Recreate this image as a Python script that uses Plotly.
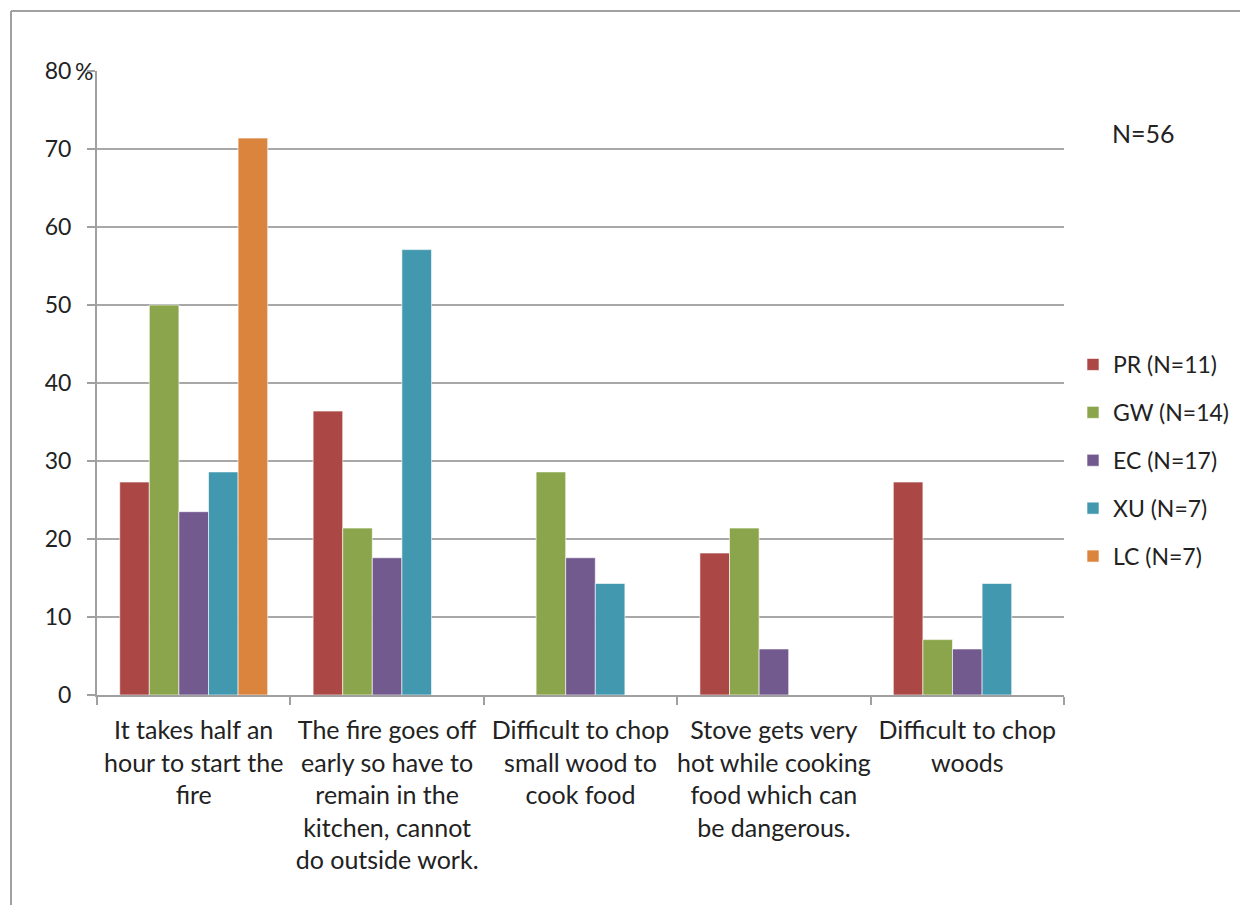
import plotly.graph_objects as go

categories = [
    "It takes half an<br>hour to start the<br>fire",
    "The fire goes off<br>early so have to<br>remain in the<br>kitchen, cannot<br>do outside work.",
    "Difficult to chop<br>small wood to<br>cook food",
    "Stove gets very<br>hot while cooking<br>food which can<br>be dangerous.",
    "Difficult to chop<br>woods",
]
series_names = ["PR (N=11)", "GW (N=14)", "EC (N=17)", "XU (N=7)", "LC (N=7)"]
pr = [27.3, 36.4, 0, 18.2, 27.3]
gw = [50.0, 21.4, 28.6, 21.4, 7.1]
ec = [23.5, 17.6, 17.6, 5.9, 5.9]
xu = [28.6, 57.1, 14.3, 0, 14.3]
lc = [71.4, 0, 0, 0, 0]
values = [pr, gw, ec, xu, lc]
colors = ["#AB4744", "#8AA54B", "#72598E", "#4298AF", "#DB843D"]
y_ticks = [0, 10, 20, 30, 40, 50, 60, 70, 80]

FONT = "Lato, 'Open Sans', sans-serif"
# page has an 8px body offset; work in figure coordinates
W, H = 1240, 897
L, R, T, B = 89, 184, 63, 210

fig = go.Figure()
for i, (name, vals, col) in enumerate(zip(series_names, values, colors)):
    fig.add_trace(go.Bar(
        x=categories, y=vals, name=name, legendgroup=f"g{i}",
        marker=dict(color=col, line=dict(color="rgba(255,255,255,0.6)", width=1)),
    ))

pw = W - L - R
ph = H - T - B
def px_x(p):
    return (p - L) / pw
def px_y(p):
    return (H - B - p) / ph

fig.update_layout(
    width=W, height=H,
    margin=dict(l=L, r=R, t=T, b=B, pad=0),
    paper_bgcolor="white", plot_bgcolor="white",
    barmode="group", bargap=0.235, bargroupgap=0,
    font=dict(family=FONT, size=23, color="#222222"),
    showlegend=True,
    legend=dict(
        x=px_x(1065), y=px_y(335), xanchor="left", yanchor="top",
        font=dict(size=23, color="#222222"), tracegroupgap=15,
        bgcolor="rgba(0,0,0,0)",
    ),
    xaxis=dict(
        type="category", showgrid=False, showline=True, linecolor="#A0A0A0", linewidth=2,
        ticks="outside", tickson="boundaries", ticklen=8, tickcolor="#A0A0A0", tickwidth=2,
        tickfont=dict(size=25, color="#222222"), tickangle=0, ticklabelstandoff=12,
    ),
    yaxis=dict(
        range=[0, 80], tickvals=y_ticks, ticktext=[str(v) for v in y_ticks],
        showgrid=True, gridcolor="#A8A8A8", gridwidth=2,
        showline=True, linecolor="#A0A0A0", linewidth=2,
        ticks="outside", ticklen=8, tickcolor="#A0A0A0", tickwidth=2,
        tickfont=dict(size=23, color="#222222"), zeroline=False, ticklabelstandoff=11,
    ),
    annotations=[
        dict(text="%", xref="paper", yref="y", x=px_x(65), y=80, xanchor="left", yanchor="middle",
             showarrow=False, font=dict(size=23, color="#222222")),
        dict(text="N=56", xref="paper", yref="paper", x=px_x(1102), y=px_y(125),
             xanchor="left", yanchor="middle", showarrow=False, font=dict(size=25, color="#222222")),
    ],
    shapes=[
        dict(type="line", xref="paper", yref="paper", x0=px_x(3), x1=px_x(1260), y0=px_y(3), y1=px_y(3),
             line=dict(color="#A0A0A0", width=2)),
        dict(type="line", xref="paper", yref="paper", x0=px_x(3), x1=px_x(3), y0=px_y(3), y1=px_y(920),
             line=dict(color="#A0A0A0", width=2)),
    ],
)

fig.write_html("out.html")
